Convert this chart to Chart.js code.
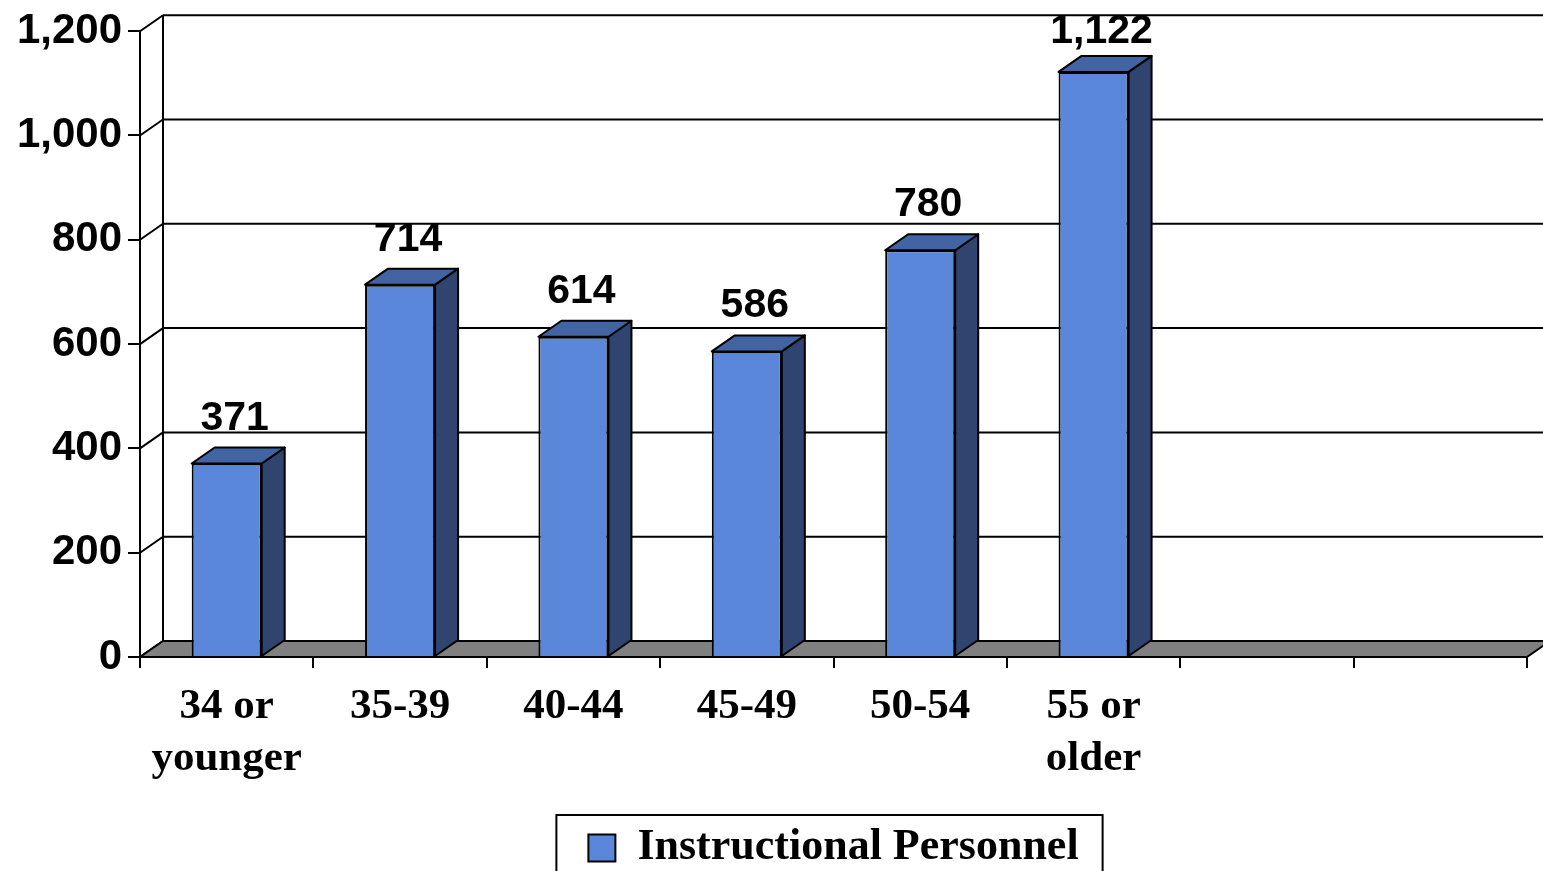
<!DOCTYPE html>
<html>
<head>
<meta charset="utf-8">
<script src="https://cdn.jsdelivr.net/npm/chart.js@4/dist/chart.umd.min.js"></script>
<style>
  html, body { margin: 0; padding: 0; background: #ffffff; overflow: hidden; }
  #wrap { width: 1543px; height: 871px; }
</style>
</head>
<body>
<div id="wrap"><canvas id="chart" width="1543" height="871"></canvas></div>
<script>
// Age groups (two trailing empty slots keep the floor running on to the right)
const categories = [['34 or', 'younger'], '35-39', '40-44', '45-49', '50-54', ['55 or', 'older'], '', ''];
// Headcount per age group
const personnel = [371, 714, 614, 586, 780, 1122];
// Value axis ticks
const yTickValues = [0, 200, 400, 600, 800, 1000, 1200];
const seriesName = 'Instructional Personnel';

const FRONT = '#5B87DB';
const TOP = '#4364A3';
const SIDE = '#2F446F';
const FLOOR = '#808080';
const DEPTH_X = 23;
const DEPTH_Y = 16;

const fmt = v => Number(v).toLocaleString('en-US');

// Back wall, side wall, floor and the depth faces of each column
const depth3d = {
  id: 'depth3d',
  beforeDatasetsDraw(chart) {
    const { ctx, chartArea: { left, right, top, bottom }, scales: { y } } = chart;
    ctx.save();
    ctx.strokeStyle = '#000';
    ctx.lineWidth = 2;
    ctx.beginPath();
    yTickValues.forEach(v => {
      const py = y.getPixelForValue(v);
      ctx.moveTo(left + DEPTH_X, py - DEPTH_Y);
      ctx.lineTo(right + DEPTH_X, py - DEPTH_Y);
      ctx.moveTo(left, py);
      ctx.lineTo(left + DEPTH_X, py - DEPTH_Y);
    });
    ctx.moveTo(left + DEPTH_X, top - DEPTH_Y);
    ctx.lineTo(left + DEPTH_X, bottom - DEPTH_Y);
    ctx.stroke();

    // floor
    ctx.beginPath();
    ctx.moveTo(left, bottom);
    ctx.lineTo(right, bottom);
    ctx.lineTo(right + DEPTH_X, bottom - DEPTH_Y);
    ctx.lineTo(left + DEPTH_X, bottom - DEPTH_Y);
    ctx.closePath();
    ctx.fillStyle = FLOOR;
    ctx.fill();
    ctx.stroke();
    ctx.restore();
  },
  afterDatasetsDraw(chart) {
    const { ctx } = chart;
    const meta = chart.getDatasetMeta(0);
    const values = chart.data.datasets[0].data;
    ctx.save();
    ctx.strokeStyle = '#000';
    ctx.lineWidth = 2;
    ctx.lineJoin = 'round';
    meta.data.forEach((bar, i) => {
      if (values[i] == null) return;
      const { x, y, base, width } = bar.getProps(['x', 'y', 'base', 'width'], true);
      const l = x - width / 2, r = x + width / 2;
      // side face
      ctx.beginPath();
      ctx.moveTo(r, y);
      ctx.lineTo(r + DEPTH_X, y - DEPTH_Y);
      ctx.lineTo(r + DEPTH_X, base - DEPTH_Y);
      ctx.lineTo(r, base);
      ctx.closePath();
      ctx.fillStyle = SIDE;
      ctx.fill();
      ctx.stroke();
      // top face
      ctx.beginPath();
      ctx.moveTo(l, y);
      ctx.lineTo(l + DEPTH_X, y - DEPTH_Y);
      ctx.lineTo(r + DEPTH_X, y - DEPTH_Y);
      ctx.lineTo(r, y);
      ctx.closePath();
      ctx.fillStyle = TOP;
      ctx.fill();
      ctx.stroke();
    });
    // value labels
    ctx.fillStyle = '#000';
    ctx.font = 'bold 41px "Liberation Sans", Arial, sans-serif';
    ctx.textAlign = 'center';
    ctx.textBaseline = 'alphabetic';
    meta.data.forEach((bar, i) => {
      if (values[i] == null) return;
      const { x, y } = bar.getProps(['x', 'y'], true);
      ctx.fillText(fmt(values[i]), x + 8, Math.max(y - 34, 43));
    });
    ctx.restore();
  },
  afterDraw(chart) {
    // frame around the legend
    const lg = chart.legend;
    if (!lg || !lg.legendHitBoxes || !lg.legendHitBoxes.length) return;
    const hb = lg.legendHitBoxes[0];
    const { ctx } = chart;
    const cy = hb.top + hb.height / 2;
    ctx.save();
    ctx.strokeStyle = '#000';
    ctx.lineWidth = 2;
    ctx.strokeRect(hb.left - 32, cy - 33, hb.width + 56, 80);
    ctx.restore();
  }
};

new Chart(document.getElementById('chart'), {
  type: 'bar',
  data: {
    labels: categories,
    datasets: [{
      label: seriesName,
      data: personnel,
      backgroundColor: FRONT,
      borderColor: '#000',
      borderWidth: 2,
      categoryPercentage: 0.404,
      barPercentage: 1
    }]
  },
  options: {
    responsive: false,
    devicePixelRatio: 1,
    animation: false,
    events: [],
    layout: { padding: { top: 27, right: 16, bottom: -9, left: 0 } },
    plugins: {
      tooltip: { enabled: false },
      legend: {
        position: 'bottom',
        fullSize: false,
        labels: {
          color: '#000',
          boxWidth: 27,
          boxHeight: 27,
          padding: 5,
          font: { family: '"Liberation Serif", "Times New Roman", serif', size: 44, weight: 'bold' }
        }
      }
    },
    scales: {
      x: {
        afterFit(scale) { scale.height = 164; },
        grid: { display: true, drawOnChartArea: false, drawTicks: true, tickLength: 11, color: '#000', lineWidth: 2, offset: true },
        border: { display: true, color: '#000', width: 2 },
        ticks: {
          color: '#000',
          autoSkip: false,
          maxRotation: 0,
          padding: 13,
          font: { family: '"Liberation Serif", "Times New Roman", serif', size: 43, weight: 'bold', lineHeight: 1.2 }
        }
      },
      y: {
        min: 0,
        max: 1200,
        afterFit(scale) { scale.width = 140; },
        afterBuildTicks(scale) { scale.ticks = yTickValues.map(v => ({ value: v })); },
        grid: { display: true, drawOnChartArea: false, drawTicks: true, tickLength: 12, color: '#000', lineWidth: 2 },
        border: { display: true, color: '#000', width: 2 },
        ticks: {
          color: '#000',
          padding: 6,
          callback: v => fmt(v),
          font: { family: '"Liberation Sans", Arial, sans-serif', size: 42, weight: 'bold' }
        }
      }
    }
  },
  plugins: [depth3d]
});
</script>
</body>
</html>
